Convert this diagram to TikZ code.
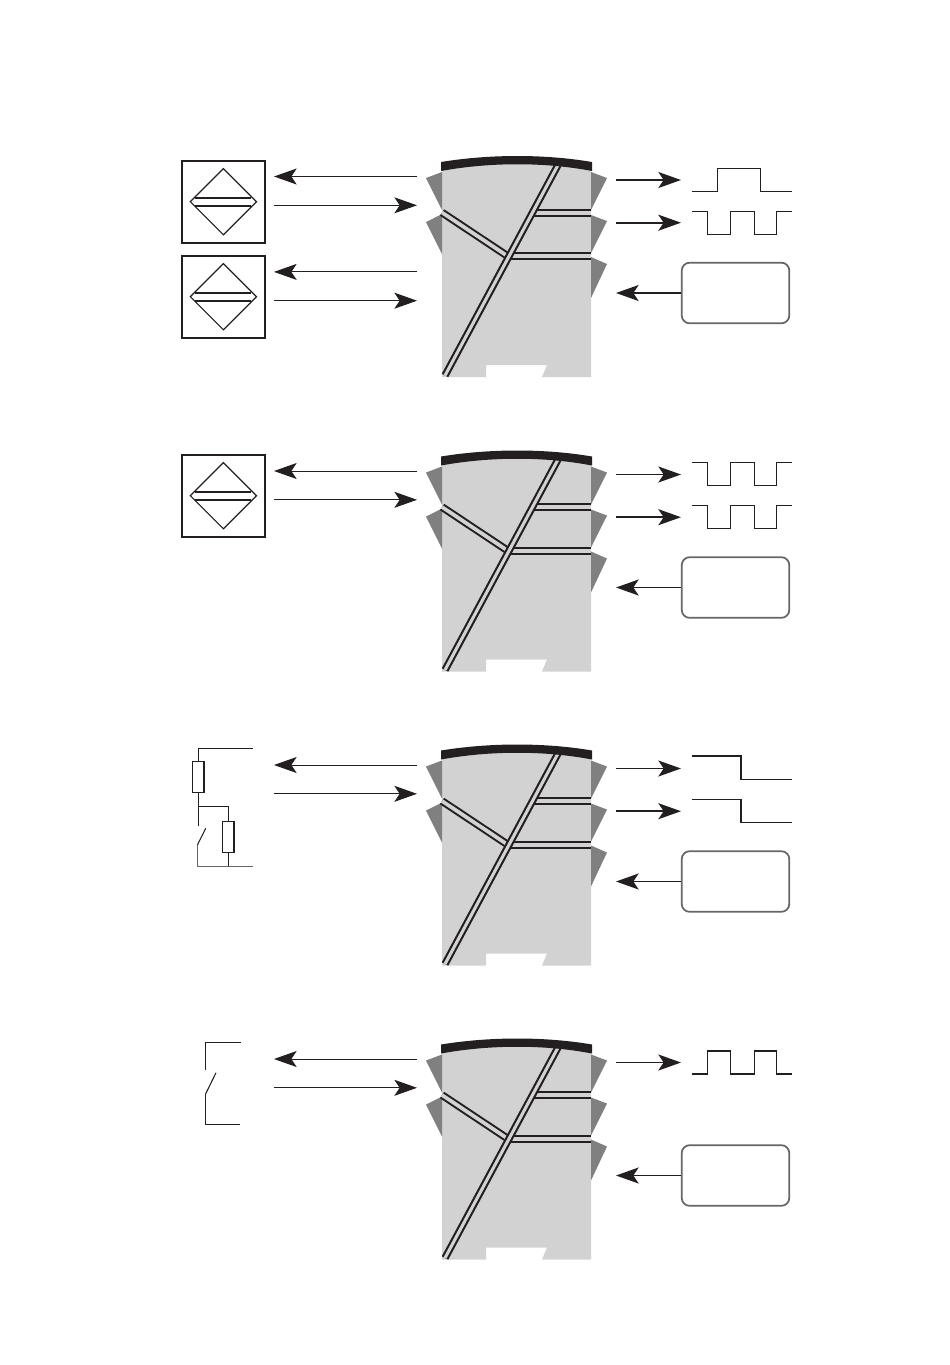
\documentclass[tikz,border=0pt]{standalone}
\usetikzlibrary{arrows.meta,shapes.geometric}

\definecolor{bodygrey}{HTML}{D2D2D2}
\definecolor{wedgegrey}{HTML}{808080}
\definecolor{inkblack}{HTML}{231F20}
\definecolor{boxgrey}{HTML}{666666}

\tikzset{
    headtip/.style={-{Stealth[length=17pt,width=12pt,inset=4pt]}},
    thinarrow/.style={headtip, draw=inkblack, line width=0.75pt},
    thickarrow/.style={headtip, draw=inkblack, line width=1.3pt},
    sigline/.style={draw=inkblack, line width=0.8pt},
    wire/.style={draw=inkblack, line width=0.8pt},
    greywire/.style={draw=boxgrey, line width=0.8pt},
    rail/.style={draw=inkblack, double=bodygrey, line width=1.5pt, double distance=3pt},
    siderail/.style={rail, double distance=2.8pt},
    mainrail/.style={rail, line width=1.6pt, double distance=2.3pt},
    wedge/.style={fill=wedgegrey, draw=none},
    sensorbox/.style={rectangle, draw=inkblack, line width=1.4pt, minimum width=62.5pt, minimum height=61.5pt, inner sep=0pt},
    sensordiamond/.style={diamond, draw=inkblack, line width=0.9pt, minimum width=50pt, minimum height=50pt, inner sep=0pt},
    ctlbox/.style={rectangle, rounded corners=6pt, draw=boxgrey, line width=1.3pt, minimum width=80.7pt, minimum height=45.5pt, inner sep=0pt},
    resistor/.style={rectangle, draw=inkblack, line width=1.2pt, fill=white, minimum width=8.7pt, minimum height=23pt, inner sep=0pt},
}

% #1 name, #2 vertical shift
\newcommand{\moduleat}[2]{
    \begin{scope}[shift={(0,#2)}]
        \fill[bodygrey] (442,168) .. controls (490,158) and (545,158) .. (591,168)
            -- (591,377) -- (542,377) -- (547,365) -- (486,365) -- (486,377) -- (442,377) -- cycle;
        \fill[wedge] (442,172) -- (426,178) -- (442,210) -- cycle;
        \fill[wedge] (442,214) -- (426,222) -- (442,254) -- cycle;
        \fill[wedge] (591,172) -- (607,178) -- (591,210) -- cycle;
        \fill[wedge] (591,215) -- (607,221) -- (591,253) -- cycle;
        \fill[wedge] (591,257) -- (607,264) -- (591,298) -- cycle;

        \draw[siderail] (442,212.5) -- (506,255);
        \draw[rail] (591,212.7) -- (532,212.7);
        \draw[rail] (591,256) -- (509,256);
        \draw[mainrail] (558,165) -- (445,375.5);

        \fill[inkblack] (441,162) .. controls (490,154) and (545,154) .. (592,162)
            -- (592,171) .. controls (545,162) and (490,162) .. (441,171) -- cycle;

        \node[ctlbox] (#1ctl) at (735.5,293) {};
        \coordinate (#1ctlin) at (616,293);
        \draw[thickarrow] (#1ctl.west |- #1ctlin) -- (#1ctlin);
    \end{scope}
}

% #1 name, #2 vertical shift
\newcommand{\leftpair}[2]{
    \coordinate (#1ia) at (417,{176.5+#2});
    \coordinate (#1ib) at (274,{176.5+#2});
    \coordinate (#1oa) at (274,{205.3+#2});
    \coordinate (#1ob) at (417,{205.3+#2});
    \draw[thinarrow] (#1ia) -- (#1ib);
    \draw[thinarrow] (#1oa) -- (#1ob);
}

% #1 name, #2 vertical shift
\newcommand{\sensorat}[2]{
    \node[sensorbox] (#1) at (223.4,{201.7+#2}) {};
    \node[sensordiamond] (#1d) at (#1.center) {};
    \draw[draw=inkblack, line width=1.3pt]
        ([xshift=-21pt,yshift=3pt]#1d.center) -- ([xshift=21pt,yshift=3pt]#1d.center)
        ([xshift=-21pt,yshift=-3pt]#1d.center) -- ([xshift=21pt,yshift=-3pt]#1d.center);
}

% #1 name, #2 vertical position of the arrow
\newcommand{\rightarrowat}[2]{
    \coordinate (#1a) at (616,#2);
    \coordinate (#1b) at (681,#2);
    \draw[thickarrow] (#1a) -- (#1b);
}

\newcommand{\sigpulse}[1]{\draw[sigline,shift={(0,#1)}]
    (691.7,191.3) -- (717.7,191.3) -- (717.7,168.3) -- (760.7,168.3) -- (760.7,191.3) -- (791.7,191.3);}
\newcommand{\sigsquare}[1]{\draw[sigline,shift={(0,#1)}]
    (691.7,211.3) -- (707.7,211.3) -- (707.7,234.3) -- (730.3,234.3) -- (730.3,211.3)
    -- (754.7,211.3) -- (754.7,234.3) -- (776.7,234.3) -- (776.7,211.3) -- (791.7,211.3);}
\newcommand{\siginverse}[1]{\draw[sigline,shift={(0,#1)}]
    (691.7,234.3) -- (707.7,234.3) -- (707.7,211.3) -- (730.3,211.3) -- (730.3,234.3)
    -- (754.7,234.3) -- (754.7,211.3) -- (776.7,211.3) -- (776.7,234.3) -- (791.7,234.3);}
\newcommand{\sigstep}[1]{\draw[sigline,shift={(0,#1)}]
    (691.7,167.5) -- (741,167.5) -- (741,190.8) -- (791.7,190.8);}

\begin{document}
\begin{tikzpicture}[x=0.75pt,y=-0.75pt]
    \useasboundingbox (0,0) rectangle (950,1365);

    % first group
    \moduleat{ma}{0}
    \sensorat{sa}{0}
    \sensorat{sb}{95}
    \leftpair{pa}{0}
    \leftpair{pb}{95.4}
    \rightarrowat{ra}{180}
    \rightarrowat{rb}{222.7}
    \sigpulse{0}
    \sigsquare{0}

    % second group
    \moduleat{mb}{294.5}
    \sensorat{sc}{294}
    \leftpair{pc}{294.5}
    \rightarrowat{rc}{474.5}
    \rightarrowat{rd}{517.2}
    \sigsquare{251.5}
    \sigsquare{294.5}

    % third group
    \moduleat{mc}{588.5}
    \leftpair{pd}{588.5}
    \rightarrowat{re}{768.5}
    \rightarrowat{rf}{811.2}
    \sigstep{588.5}
    \sigstep{631.8}

    \node[resistor] (ra1) at (198.4,777) {};
    \node[resistor] (ra2) at (228.4,837) {};
    \coordinate (jn) at (198.4,806.3);
    \coordinate (tp) at (252.7,748.3);
    \coordinate (bt) at (253.3,866.7);
    \coordinate (sw) at (197.4,845);
    \coordinate (st) at (198.4,825.7);
    \coordinate (bl) at (205.7,828.3);
    \draw[wire] (tp) -- (ra1.north |- tp) -- (ra1.north);
    \draw[wire] (ra1.south) -- (st);
    \draw[wire] (jn) -| (ra2.north);
    \draw[wire] (ra2.south) -- (ra2.south |- bt);
    \draw[wire] (sw) -- (bl);
    \draw[greywire] (sw) |- (bt);

    % fourth group
    \moduleat{md}{882.5}
    \leftpair{pe}{882.5}
    \rightarrowat{rg}{1062.5}
    \siginverse{839.7}

    \coordinate (tq) at (241,1042.3);
    \coordinate (tr) at (205.4,1070);
    \coordinate (sx) at (205.6,1094);
    \coordinate (bm) at (216,1072.7);
    \coordinate (bu) at (240,1124.7);
    \draw[wire] (tq) -| (tr);
    \draw[wire] (sx) -- (bm);
    \draw[wire] (sx) |- (bu);
\end{tikzpicture}
\end{document}
